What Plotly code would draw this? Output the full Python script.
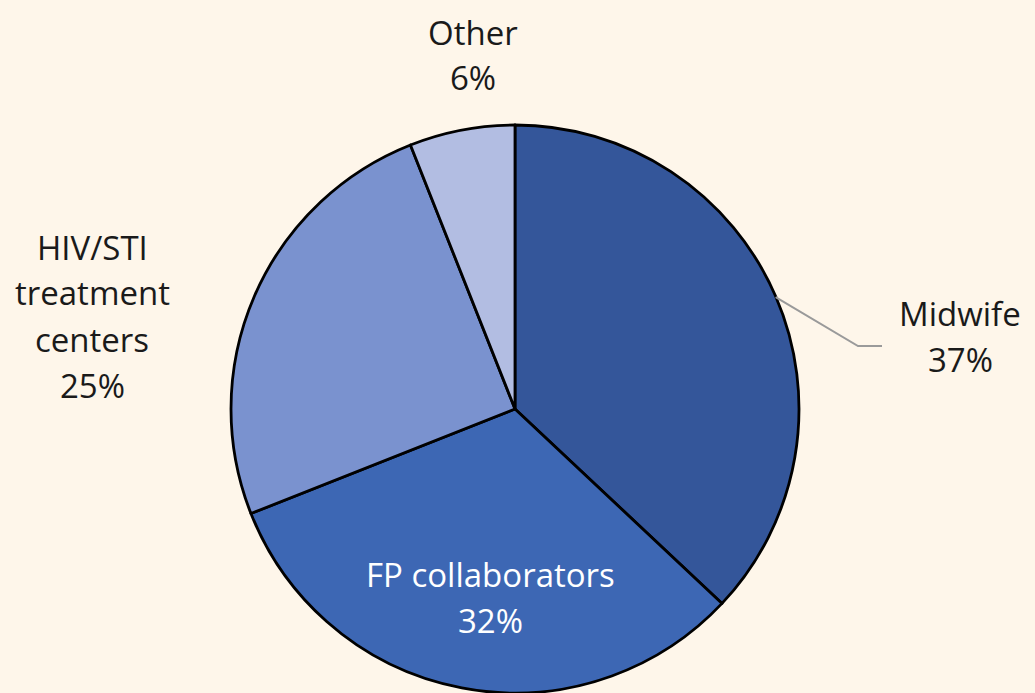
import math
import plotly.graph_objects as go

# ---- data ----
categories = ["Midwife", "FP collaborators", "HIV/STI treatment centers", "Other"]
label_lines = [["Midwife"], ["FP collaborators"], ["HIV/STI", "treatment", "centers"], ["Other"]]
values = [37, 32, 25, 6]
colors = ["#34569a", "#3d67b4", "#7a92cf", "#b2bde2"]

W, H = 1035, 693
BG = "#fef6ea"
cx, cy, r = 515, 410, 284  # pixel geometry of the pie
LINE_H = 46

fig = go.Figure()
fig.add_trace(go.Pie(
    labels=categories,
    values=values,
    sort=False,
    direction="clockwise",
    rotation=0,
    textinfo="none",
    hoverinfo="label+percent",
    marker=dict(colors=colors, line=dict(color="#000000", width=2.8)),
    domain=dict(x=[(cx - r) / W, (cx + r) / W], y=[0, 2 * r / H]),
    showlegend=False,
))

# label block centres (pixels) and colours
label_pos = {
    "Midwife": (960, 336, "#1a1a1a"),
    "FP collaborators": (490, 597, "#ffffff"),
    "HIV/STI treatment centers": (92, 316, "#1a1a1a"),
    "Other": (473, 55, "#1a1a1a"),
}
total = sum(values)
for cat, lines, v in zip(categories, label_lines, values):
    x, y, col = label_pos[cat]
    all_lines = lines + [f"{round(100 * v / total)}%"]
    n = len(all_lines)
    for i, ln in enumerate(all_lines):
        ly = y + (i - (n - 1) / 2) * LINE_H
        fig.add_annotation(
            text=ln, xref="paper", yref="paper", x=x / W, y=1 - ly / H,
            xanchor="center", yanchor="middle", showarrow=False,
            font=dict(family="Open Sans", size=33, color=col),
        )

# leader line for Midwife, starting at slice mid-angle on the rim
mid_ang = math.radians(360 * (values[0] / 2) / total)
sx, sy = cx + r * math.sin(mid_ang), cy - r * math.cos(mid_ang)
pts = [(sx, sy), (858, 346), (882, 346)]
path = "M " + " L ".join(f"{px / W},{1 - py / H}" for px, py in pts)
fig.add_shape(type="path", path=path, xref="paper", yref="paper",
              line=dict(color="#9a9a9a", width=2))

fig.update_layout(
    width=W, height=H,
    margin=dict(l=0, r=0, t=0, b=0),
    paper_bgcolor=BG, plot_bgcolor=BG,
)
fig.write_html(
    "out.html",
    config={"displayModeBar": False},
    post_script="document.body.style.margin='0';document.body.style.overflow='hidden';"
                "document.body.style.background='" + BG + "';",
)
